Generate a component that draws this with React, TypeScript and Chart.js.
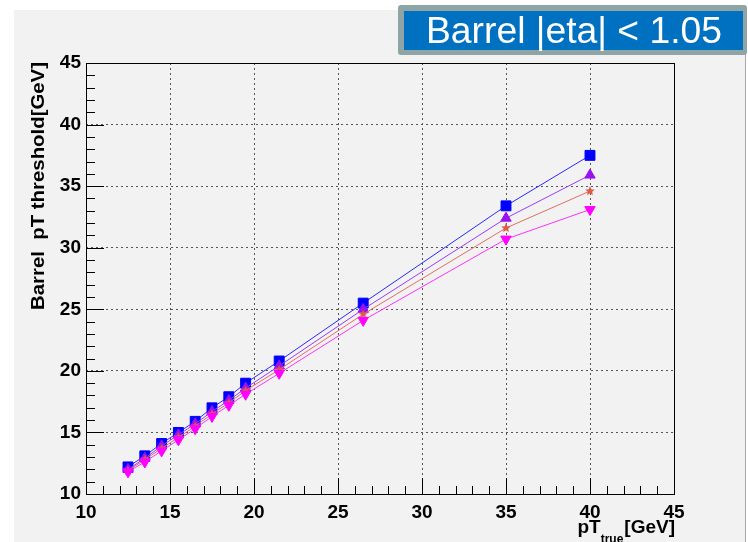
import { useEffect, useRef } from "react";
import { Chart, registerables } from "chart.js";

Chart.register(...registerables);

// pT_true bin centres [GeV]
const ptTrue = [12.5, 13.5, 14.5, 15.5, 16.5, 17.5, 18.5, 19.5, 21.5, 26.5, 35, 40];

// Barrel pT thresholds [GeV], one list per working point
const thrSquare = [12.2, 13.1, 14.1, 15.0, 15.9, 17.0, 17.9, 19.0, 20.8, 25.5, 33.4, 37.5];
const thrTriUp = [12.0, 12.9, 13.9, 14.8, 15.7, 16.7, 17.6, 18.6, 20.4, 25.0, 32.4, 35.9];
const thrStar = [11.9, 12.8, 13.7, 14.6, 15.5, 16.5, 17.4, 18.4, 20.1, 24.6, 31.6, 34.6];
const thrTriDown = [11.8, 12.6, 13.5, 14.4, 15.3, 16.3, 17.2, 18.1, 19.8, 24.1, 30.7, 33.1];

const xTicks = [10, 15, 20, 25, 30, 35, 40, 45];
const yTicks = [10, 15, 20, 25, 30, 35, 40, 45];

const titleText = "Barrel |eta| < 1.05";
const yTitle = "Barrel  pT threshold[GeV]";

const FONT = "'Liberation Sans', Arial, Helvetica, sans-serif";

function toPoints(ys: number[]) {
  return ptTrue.map((x, i) => ({ x, y: ys[i] }));
}

function makeStar(color: string, size: number) {
  const c = document.createElement("canvas");
  c.width = size;
  c.height = size;
  const g = c.getContext("2d")!;
  const cx = size / 2;
  const cy = size / 2;
  const R = size / 2;
  const r = R * 0.45;
  g.beginPath();
  for (let i = 0; i < 10; i++) {
    const a = -Math.PI / 2 + (i * Math.PI) / 5;
    const rad = i % 2 ? r : R;
    g.lineTo(cx + rad * Math.cos(a), cy + rad * Math.sin(a));
  }
  g.closePath();
  g.fillStyle = color;
  g.fill();
  return c;
}

// Canvas background, frame, inner tick marks, boxed header and axis titles
const decorations = {
  id: "decorations",
  beforeDraw(chart: any) {
    const { ctx, width, height } = chart;
    ctx.save();
    ctx.fillStyle = "#ffffff";
    ctx.fillRect(0, 0, width, height);
    ctx.fillStyle = "#f2f2f2";
    ctx.fillRect(14, 10, 731, height - 10);
    ctx.strokeStyle = "#a8a8a8";
    ctx.lineWidth = 1;
    ctx.beginPath();
    ctx.moveTo(745.5, 10);
    ctx.lineTo(745.5, height);
    ctx.stroke();
    ctx.restore();
  },
  beforeDatasetsDraw(chart: any) {
    const { ctx, chartArea } = chart;
    const xs = chart.scales.x;
    const ys = chart.scales.y;
    const { left, right, top, bottom } = chartArea;
    ctx.save();
    ctx.strokeStyle = "#000000";
    ctx.lineWidth = 1;
    ctx.strokeRect(Math.round(left) + 0.5, Math.round(top) + 0.5, Math.round(right - left), Math.round(bottom - top));
    ctx.beginPath();
    for (let v = 10; v <= 45; v++) {
      const major = v % 5 === 0;
      const px = Math.round(xs.getPixelForValue(v)) + 0.5;
      ctx.moveTo(px, bottom);
      ctx.lineTo(px, bottom - (major ? 16 : 8));
      const py = Math.round(ys.getPixelForValue(v)) + 0.5;
      ctx.moveTo(left, py);
      ctx.lineTo(left + (major ? 18 : 9), py);
    }
    ctx.stroke();
    ctx.restore();
  },
  afterDraw(chart: any) {
    const { ctx, chartArea } = chart;
    ctx.save();

    // header box
    ctx.fillStyle = "#8fa4a4";
    ctx.beginPath();
    ctx.roundRect(398, 5, 349, 50, 3);
    ctx.fill();
    ctx.fillStyle = "#0070c0";
    ctx.fillRect(404, 11, 339, 39);
    ctx.fillStyle = "#ffffff";
    ctx.font = `36px ${FONT}`;
    ctx.textAlign = "center";
    ctx.textBaseline = "alphabetic";
    const tw = ctx.measureText(titleText).width;
    ctx.save();
    ctx.translate(574, 43);
    ctx.scale(296 / tw, 1);
    ctx.fillText(titleText, 0, 0);
    ctx.restore();

    // y axis title
    ctx.fillStyle = "#000000";
    ctx.font = `bold 19px ${FONT}`;
    const w = ctx.measureText(yTitle).width;
    ctx.save();
    ctx.translate(44, chartArea.top - 1);
    ctx.rotate(-Math.PI / 2);
    ctx.scale(248 / w, 1);
    ctx.textAlign = "right";
    ctx.fillText(yTitle, 0, 0);
    ctx.restore();

    // x axis title: pT_true [GeV]
    const endX = chartArea.right + 1;
    ctx.textAlign = "left";
    ctx.font = `bold 19px ${FONT}`;
    const wGev = ctx.measureText("[GeV]").width;
    const wPt = ctx.measureText("pT").width;
    ctx.font = `bold 12px ${FONT}`;
    const wSub = ctx.measureText("true").width;
    const x0 = endX - wGev - wSub - wPt - 1;
    ctx.font = `bold 19px ${FONT}`;
    ctx.fillText("pT", x0, 533);
    ctx.fillText("[GeV]", x0 + wPt + wSub + 1, 533);
    ctx.font = `bold 12px ${FONT}`;
    ctx.fillText("true", x0 + wPt, 543);
    ctx.restore();
  },
};

export default function App() {
  const ref = useRef<HTMLCanvasElement>(null);

  useEffect(() => {
    const star = makeStar("#dd5a4a", 10);
    const chart = new Chart(ref.current!, {
      type: "scatter",
      data: {
        datasets: [
          {
            data: toPoints(thrSquare),
            showLine: true,
            borderColor: "#2a2aff",
            borderWidth: 1,
            pointStyle: "rect",
            pointRadius: 7,
            pointBackgroundColor: "#0000ff",
            pointBorderColor: "#0000ff",
            pointBorderWidth: 1,
            order: 4,
          },
          {
            data: toPoints(thrTriUp),
            showLine: true,
            borderColor: "#9a3cff",
            borderWidth: 1,
            pointStyle: "triangle",
            pointRadius: 6,
            pointBackgroundColor: "#9a10f0",
            pointBorderColor: "#9a10f0",
            pointBorderWidth: 1,
            order: 3,
          },
          {
            data: toPoints(thrStar),
            showLine: true,
            borderColor: "#e07060",
            borderWidth: 1,
            pointStyle: star,
            pointRadius: 5,
            pointBackgroundColor: "#dd5a4a",
            pointBorderColor: "#dd5a4a",
            order: 2,
          },
          {
            data: toPoints(thrTriDown),
            showLine: true,
            borderColor: "#ff30ff",
            borderWidth: 1,
            pointStyle: "triangle",
            pointRotation: 180,
            pointRadius: 6,
            pointBackgroundColor: "#ff00ff",
            pointBorderColor: "#ff00ff",
            pointBorderWidth: 1,
            order: 1,
          },
        ],
      },
      options: {
        responsive: false,
        animation: false,
        events: [],
        layout: { padding: { left: 0, top: 63, right: 74, bottom: 0 } },
        plugins: {
          legend: { display: false },
          tooltip: { enabled: false },
          title: { display: false },
        },
        scales: {
          x: {
            type: "linear",
            min: 10,
            max: 45,
            afterBuildTicks: (s: any) => {
              s.ticks = xTicks.map((value) => ({ value }));
            },
            afterFit: (s: any) => {
              s.height = 48;
            },
            grid: { color: "#555555", lineWidth: 1, drawTicks: false },
            border: { display: false, dash: [2, 3] },
            ticks: {
              color: "#000000",
              padding: 7,
              maxRotation: 0,
              autoSkip: false,
              font: { family: FONT, size: 19, weight: "bold" },
            },
          },
          y: {
            type: "linear",
            min: 10,
            max: 45,
            afterBuildTicks: (s: any) => {
              s.ticks = yTicks.map((value) => ({ value }));
            },
            afterFit: (s: any) => {
              s.width = 86;
            },
            grid: { color: "#555555", lineWidth: 1, drawTicks: false },
            border: { display: false, dash: [2, 3] },
            ticks: {
              color: "#000000",
              padding: 5,
              autoSkip: false,
              font: { family: FONT, size: 19, weight: "bold" },
            },
          },
        },
      },
      plugins: [decorations],
    } as any);
    return () => chart.destroy();
  }, []);

  return (
    <div style={{ position: "fixed", left: 0, top: 0, width: 748, height: 542 }}>
      <canvas ref={ref} width={748} height={542} style={{ display: "block", width: 748, height: 542 }} />
    </div>
  );
}
